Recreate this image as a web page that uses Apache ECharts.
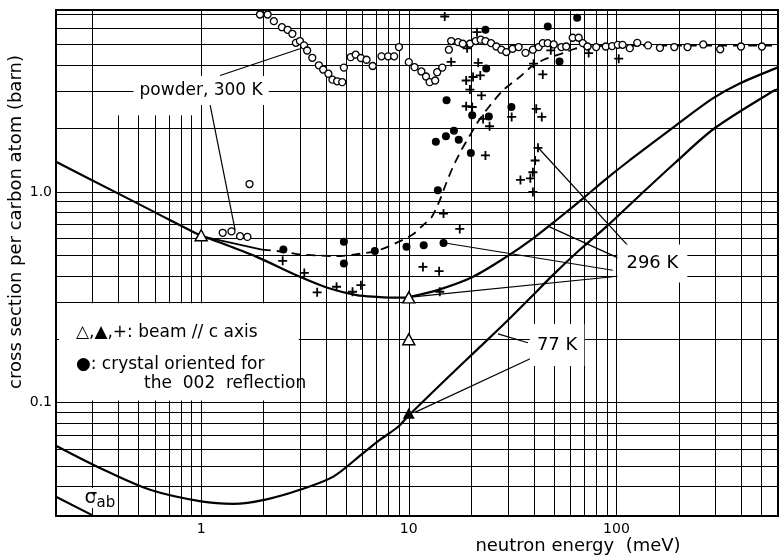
<!DOCTYPE html>
<html><head><meta charset="utf-8">
<script src="https://cdn.jsdelivr.net/npm/echarts@6/dist/echarts.min.js"></script>
<style>html,body{margin:0;padding:0;background:#fff}#c{width:783px;height:558px}</style>
</head><body><div id="c"></div>
<script>
// ---------- data ----------
const xTickLabels = ['1', '10', '100'];
const yTickLabels = ['0.1', '1.0'];
const xTitle = 'neutron energy  (meV)';
const yTitle = 'cross section per carbon atom (barn)';

// theory, 296 K (beam // c axis)
const t296E = [0.2, 0.393, 0.6, 1.0, 1.1, 1.85, 2.99, 4.17, 5.6, 7.0, 9.05, 10, 14.1, 20.4, 29.5, 39.6, 51.3, 68.9, 87.5, 115.5, 193.6, 290, 390, 600];
const t296S = [1.39, 0.99, 0.80, 0.62, 0.60, 0.492, 0.396, 0.348, 0.324, 0.318, 0.315, 0.317, 0.345, 0.396, 0.492, 0.601, 0.734, 0.93, 1.136, 1.41, 2.07, 2.77, 3.26, 3.9];
// theory, 77 K
const t77E = [0.2, 0.327, 0.568, 1.0, 1.43, 2.07, 2.99, 4.33, 6.03, 7.25, 8.89, 10, 15.2, 21.9, 29.5, 38.2, 49.4, 66.4, 89.2, 129, 193.6, 296, 575, 600];
const t77S = [0.0625, 0.0489, 0.0386, 0.034, 0.0331, 0.0348, 0.0386, 0.0446, 0.0577, 0.0666, 0.0769, 0.087, 0.13, 0.183, 0.242, 0.312, 0.403, 0.53, 0.683, 0.96, 1.387, 2.0, 3.03, 3.07];
// absorption cross section
const sigE = [0.2, 0.3];
const sigS = [0.0358, 0.0292];
// crystal oriented for 002 reflection, guide curve
const crysSolidE = [1.05, 1.96];
const crysSolidS = [0.61, 0.533];
const crysDashE = [1.96, 2.5, 3.0, 4.49, 5.5, 7.0, 8.6, 10.5, 11.7, 12.9, 14.1, 14.9, 16.3, 17.9, 19.7, 21.5, 23.6, 28.4, 34.2, 39.6, 45.9, 57.3, 62.8, 75, 100, 200, 600];
const crysDashS = [0.533, 0.52, 0.505, 0.496, 0.505, 0.525, 0.57, 0.63, 0.695, 0.761, 0.913, 1.056, 1.31, 1.576, 1.856, 2.146, 2.44, 3.03, 3.51, 3.98, 4.29, 4.61, 4.78, 4.9, 4.95, 4.95, 4.95];
// powder, 300 K (open circles)
const powderE = [1.27, 1.40, 1.54, 1.67, 1.71, 1.92, 2.09, 2.24, 2.45, 2.61, 2.75, 2.86, 2.99, 3.13, 3.24, 3.43, 3.69, 3.87, 4.10, 4.29, 4.52, 4.78, 4.87, 5.25, 5.55, 5.88, 6.26, 6.70, 7.39, 7.95, 8.50, 8.97, 10.0, 10.66, 11.5, 12.1, 12.6, 13.4, 13.7, 14.5, 15.6, 16.0, 17.3, 18.2, 19.7, 21.0, 22.2, 23.4, 24.9, 26.4, 27.9, 29.5, 31.6, 33.8, 36.5, 39.6, 42.2, 44.2, 46.7, 49.9, 54.3, 57.3, 61.6, 65.8, 68.9, 72.6, 79.9, 88.9, 95.3, 101.5, 107, 116, 126, 142, 162, 190, 220, 262, 316, 398, 502];
const powderS = [0.64, 0.65, 0.617, 0.612, 1.09, 6.95, 6.95, 6.46, 6.05, 5.88, 5.63, 5.1, 5.2, 4.96, 4.69, 4.33, 3.99, 3.81, 3.64, 3.41, 3.35, 3.32, 3.89, 4.36, 4.48, 4.32, 4.24, 3.96, 4.40, 4.40, 4.40, 4.87, 4.13, 3.91, 3.73, 3.53, 3.32, 3.38, 3.70, 3.89, 4.73, 5.2, 5.14, 5.05, 5.05, 5.2, 5.28, 5.2, 5.08, 4.90, 4.73, 4.61, 4.78, 4.87, 4.57, 4.73, 4.87, 5.08, 5.08, 5.01, 4.87, 4.90, 5.39, 5.39, 5.08, 4.90, 4.87, 4.90, 4.92, 4.99, 4.99, 4.81, 5.10, 4.96, 4.83, 4.87, 4.87, 5.01, 4.75, 4.90, 4.90];
// crystal oriented for 002 reflection (filled dots)
const dotE = [2.49, 4.87, 4.87, 6.86, 9.75, 11.8, 14.7, 13.8, 13.5, 15.1, 16.5, 17.4, 19.9, 20.2, 24.3, 15.2, 23.6, 23.4, 31.2, 46.7, 53.2, 64.7];
const dotS = [0.533, 0.58, 0.458, 0.525, 0.549, 0.559, 0.573, 1.02, 1.73, 1.84, 1.95, 1.77, 1.53, 2.31, 2.28, 2.72, 3.85, 5.88, 2.53, 6.1, 4.16, 6.71];
// beam // c axis, crosses
const crossE = [2.47, 3.14, 3.62, 4.49, 5.36, 5.88, 11.7, 14.0, 14.1, 14.7, 17.6, 23.4, 22.8, 24.5, 31.3, 43.7, 41.1, 41.9, 40.6, 39.6, 38.5, 34.5, 39.6, 14.9, 21.3, 19.1, 16.0, 21.6, 18.9, 20.4, 22.1, 19.7, 22.4, 18.9, 20.2, 39.9, 44.2, 48.3, 73.5, 102.6];
const crossS = [0.471, 0.413, 0.334, 0.355, 0.336, 0.361, 0.441, 0.421, 0.336, 0.79, 0.668, 1.49, 2.22, 2.05, 2.27, 2.27, 2.48, 1.62, 1.41, 1.24, 1.16, 1.14, 1.0, 6.8, 5.73, 4.8, 4.14, 4.1, 3.38, 3.51, 3.57, 3.06, 2.87, 2.55, 2.53, 4.06, 3.61, 4.7, 4.56, 4.29];
// triangles
const triOpenE = [1.0, 10, 10];
const triOpenS = [0.623, 0.316, 0.2];
const triFillE = [10];
const triFillS = [0.089];
// annotation leader lines (from -> to)
const leaderFromE = [1.234, 1.105, 41.8, 47.6, 15.2, 10.5, 26.9, 10.7];
const leaderFromS = [3.57, 2.58, 1.63, 0.683, 0.571, 0.318, 0.212, 0.09];
const leaderToE = [2.99, 1.457, 113, 103, 96, 96, 37.5, 39.6];
const leaderToS = [4.78, 0.66, 0.559, 0.484, 0.425, 0.396, 0.1925, 0.164];
// annotation texts
const noteTexts = ['powder, 300 K', '296 K', '77 K'];
const noteE = [1.0, 149, 51.8];
const noteS = [3.03, 0.458, 0.1877];
const legendTexts = ['\u25B3,\u25B2,+: beam // c axis', '\u25CF: crystal oriented for', 'the  002  reflection'];
const legendE = [0.248, 0.248, 0.528];
const legendS = [0.214, 0.151, 0.1227];

// ---------- chart ----------
const F = 'DejaVu Sans';
const X_MIN = 0.2, X_MAX = 600, Y_MIN = 0.029, Y_MAX = 7.3;
const zip = (a, b) => a.map((v, i) => [v, b[i]]);

function minorValues(min, max) {
  const out = [];
  for (let e = -3; e <= 4; e++) for (let m = 1; m <= 9; m++) {
    const v = parseFloat((m * Math.pow(10, e)).toPrecision(6));
    if (v > min * 1.04 && v < max / 1.04) out.push(v);
  }
  return out;
}
const gridLines = [];
minorValues(X_MIN, X_MAX).forEach(v => {
  const top = (v > 0.35 && v < 0.95) ? 2.31 : Y_MAX;
  gridLines.push([{ coord: [v, Y_MIN] }, { coord: [v, top] }]);
});
minorValues(Y_MIN, Y_MAX).forEach(v => {
  gridLines.push([{ coord: [X_MIN, v] }, { coord: [X_MAX, v] }]);
});
const leaderLines = leaderFromE.map((e, i) => [{ coord: [e, leaderFromS[i]] }, { coord: [leaderToE[i], leaderToS[i]] }]);

function tickFormatter(labels) {
  const vals = labels.map(Number);
  return v => {
    const i = vals.findIndex(t => Math.abs(Math.log10(v / t)) < 1e-6);
    return i >= 0 ? labels[i] : '';
  };
}

const noteItems = noteTexts.map((t, i) => ({
  value: [noteE[i], noteS[i]],
  label: {
    show: true, position: 'inside', formatter: t, fontFamily: F, color: '#000',
    fontSize: i === 0 ? 17 : 18, backgroundColor: '#fff',
    padding: i === 0 ? [6, 6] : (i === 1 ? [10, 9] : [12, 7])
  }
}));
const legendItems = legendTexts.map((t, i) => ({
  value: [legendE[i], legendS[i]],
  label: { show: true, position: 'right', distance: 0, formatter: t, fontFamily: F, fontSize: 17, color: '#000' }
}));
const sigmaItems = [
  { value: [0.27, 0.0353], label: { show: true, position: 'right', distance: 0, formatter: '\u03C3', fontFamily: F, fontSize: 20, color: '#000', backgroundColor: '#fff', padding: [0, 1] } },
  { value: [0.305, 0.0335], label: { show: true, position: 'right', distance: 0, formatter: 'ab', fontFamily: F, fontSize: 15, color: '#000', backgroundColor: '#fff', padding: [0, 2] } }
];

const chart = echarts.init(document.getElementById('c'));
chart.setOption({
  animation: false,
  backgroundColor: '#fff',
  textStyle: { fontFamily: F },
  grid: { left: 56, right: 5, top: 10, bottom: 42, show: true, borderColor: '#000', borderWidth: 2, backgroundColor: 'transparent', z: 20 },
  xAxis: {
    type: 'log', logBase: 10, min: X_MIN, max: X_MAX,
    axisLine: { show: false }, axisTick: { show: false }, splitLine: { show: false },
    axisLabel: { formatter: tickFormatter(xTickLabels), fontSize: 14, color: '#000', margin: 6, fontFamily: F, showMinLabel: false, showMaxLabel: false }
  },
  yAxis: {
    type: 'log', logBase: 10, min: Y_MIN, max: Y_MAX,
    axisLine: { show: false }, axisTick: { show: false }, splitLine: { show: false },
    axisLabel: { formatter: tickFormatter(yTickLabels), fontSize: 14, color: '#000', margin: 4, fontFamily: F, showMinLabel: false, showMaxLabel: false }
  },
  graphic: [
    { type: 'text', x: 16, y: 222, rotation: Math.PI / 2, style: { text: yTitle, font: '18px "DejaVu Sans"', fill: '#000', align: 'center', verticalAlign: 'middle' } },
    { type: 'text', x: 578, y: 546, style: { text: xTitle, font: '18px "DejaVu Sans"', fill: '#000', align: 'center', verticalAlign: 'middle' } }
  ],
  series: [
    { name: 'grid', type: 'line', data: [[1, 1]], showSymbol: false, lineStyle: { opacity: 0 }, silent: true, z: 1,
      markLine: { z: 1, silent: true, symbol: ['none', 'none'], animation: false, label: { show: false },
        lineStyle: { color: '#000', width: 1, type: 'solid' }, emphasis: { disabled: true }, data: gridLines },
      markArea: { z: 2, silent: true, animation: false, itemStyle: { color: '#fff' }, label: { show: false },
        data: [[{ coord: [0.207, 0.1025] }, { coord: [2.95, 0.296] }]] } },
    { name: 'leaders', type: 'line', data: [[1, 1]], showSymbol: false, lineStyle: { opacity: 0 }, silent: true, z: 4,
      markLine: { z: 4, silent: true, symbol: ['none', 'none'], animation: false, label: { show: false },
        lineStyle: { color: '#000', width: 1.2, type: 'solid' }, emphasis: { disabled: true }, data: leaderLines } },
    { name: 'sigma ab', type: 'line', data: zip(sigE, sigS), showSymbol: false, silent: true, z: 5, lineStyle: { color: '#000', width: 2.2 } },
    { name: '296 K', type: 'line', data: zip(t296E, t296S), smooth: 0.3, showSymbol: false, silent: true, z: 5, lineStyle: { color: '#000', width: 2.2 } },
    { name: '77 K', type: 'line', data: zip(t77E, t77S), smooth: 0.3, showSymbol: false, silent: true, z: 5, lineStyle: { color: '#000', width: 2.2 } },
    { name: 'crystal solid', type: 'line', data: zip(crysSolidE, crysSolidS), showSymbol: false, silent: true, z: 5, lineStyle: { color: '#000', width: 1.8 } },
    { name: 'crystal dashed', type: 'line', data: zip(crysDashE, crysDashS), smooth: 0.25, showSymbol: false, silent: true, z: 5, lineStyle: { color: '#000', width: 1.8, type: [9, 6] } },
    { name: 'powder', type: 'scatter', data: zip(powderE, powderS), symbol: 'circle', symbolSize: 7, silent: true, z: 7,
      itemStyle: { color: '#fff', borderColor: '#000', borderWidth: 1.3, opacity: 1 } },
    { name: 'crystal 002', type: 'scatter', data: zip(dotE, dotS), symbol: 'circle', symbolSize: 8, silent: true, z: 7, itemStyle: { color: '#000', opacity: 1 } },
    { name: 'beam c', type: 'scatter', data: zip(crossE, crossS), symbol: 'path://M4,0H6V4H10V6H6V10H4V6H0V4H4Z', symbolSize: 9, silent: true, z: 7, itemStyle: { color: '#000', opacity: 1 } },
    { name: 'tri open', type: 'scatter', data: zip(triOpenE, triOpenS), symbol: 'triangle', symbolSize: [12, 11], silent: true, z: 8,
      itemStyle: { color: '#fff', borderColor: '#000', borderWidth: 1.5, opacity: 1 } },
    { name: 'tri filled', type: 'scatter', data: zip(triFillE, triFillS), symbol: 'triangle', symbolSize: [12, 11], silent: true, z: 8, itemStyle: { color: '#000', opacity: 1 } },
    { name: 'notes', type: 'scatter', data: noteItems.concat(legendItems, sigmaItems), symbolSize: 1, silent: true, z: 10,
      itemStyle: { color: 'rgba(0,0,0,0)', opacity: 1 } }
  ]
});
</script>
</body></html>
